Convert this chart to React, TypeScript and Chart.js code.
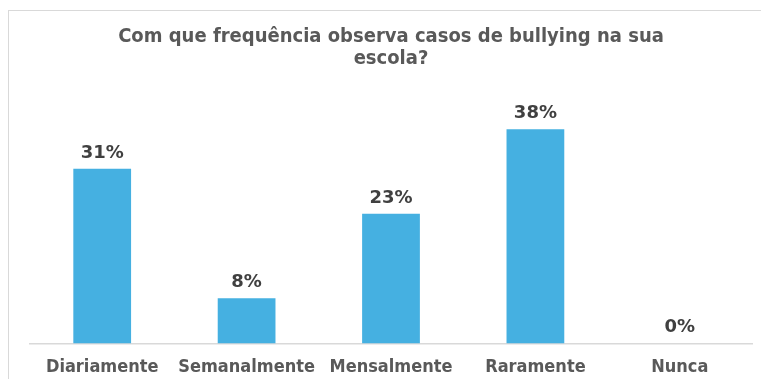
import React, { useEffect, useRef } from "react";
import { Chart, registerables } from "chart.js";

Chart.register(...registerables);

const titleLines = ["Com que frequência observa casos de bullying na sua", "escola?"];
const categories = ["Diariamente", "Semanalmente", "Mensalmente", "Raramente", "Nunca"];
const values = [31, 8, 23, 38, 0];
const yMax = 40;

const condensed = "'DejaVu Sans Condensed', 'DejaVu Sans', Verdana, sans-serif";
const wide = "'DejaVu Sans', Verdana, sans-serif";

const labelPlugin = {
  id: "valueLabels",
  afterDatasetsDraw(chart: any) {
    const ctx = chart.ctx;
    const meta = chart.getDatasetMeta(0);
    ctx.save();
    ctx.font = "bold 18px " + wide;
    ctx.fillStyle = "#404040";
    ctx.textAlign = "center";
    ctx.textBaseline = "alphabetic";
    meta.data.forEach((bar: any, i: number) => {
      ctx.fillText(values[i] + "%", bar.x, bar.y - 11);
    });
    ctx.restore();
  },
};

export default function App() {
  const ref = useRef<HTMLCanvasElement | null>(null);
  useEffect(() => {
    if (!ref.current) return;
    const chart = new Chart(ref.current, {
      type: "bar",
      data: {
        labels: categories,
        datasets: [
          {
            data: values,
            backgroundColor: "#45B0E1",
            borderWidth: 0,
            barPercentage: 0.4,
            categoryPercentage: 1,
          },
        ],
      },
      options: {
        animation: false,
        responsive: false,
        maintainAspectRatio: false,
        layout: { padding: { left: 30, right: 9, top: 0, bottom: -12 } },
        plugins: {
          legend: { display: false },
          tooltip: { enabled: false },
          title: {
            display: true,
            text: titleLines,
            color: "#595959",
            font: { family: condensed, size: 20, weight: "bold", lineHeight: 22 / 20 },
            padding: { top: 26, bottom: 48 },
          },
        },
        scales: {
          x: {
            grid: { display: false, drawTicks: false },
            border: { display: true, color: "#d9d9d9", width: 1.5 },
            ticks: {
              color: "#595959",
              font: { family: condensed, size: 18, weight: "bold" },
              padding: 13,
              maxRotation: 0,
              autoSkip: false,
            },
          },
          y: {
            display: false,
            min: 0,
            max: yMax,
          },
        },
      },
      plugins: [labelPlugin],
    });
    return () => chart.destroy();
  }, []);

  return (
    <div style={{ position: "absolute", left: 0, top: 0, width: 761, height: 379, overflow: "hidden", background: "#fff" }}>
      <div
        style={{
          position: "absolute",
          left: 8,
          top: 10,
          width: 800,
          height: 400,
          border: "1px solid #d9d9d9",
          boxSizing: "border-box",
        }}
      />
      <canvas ref={ref} width={761} height={379} style={{ position: "absolute", left: 0, top: 0 }} />
    </div>
  );
}
